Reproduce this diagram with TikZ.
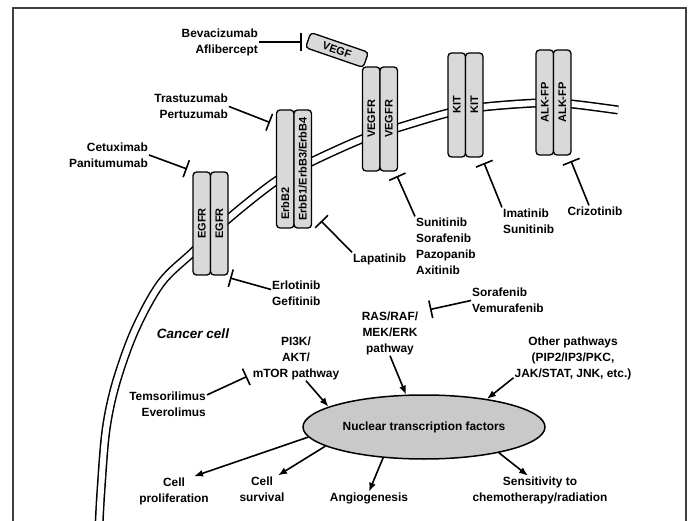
\documentclass[tikz,border=0pt]{standalone}
\usepackage{fontspec}
\setmainfont{Liberation Sans}
\usetikzlibrary{arrows.meta,shapes.geometric}

\tikzset{
	lbl/.style={font=\bfseries\fontsize{11.9}{16}\selectfont, inner sep=1pt, align=center},
	rcpt/.style={draw, fill=gray!30, line width=1.3pt, rounded corners=3.5pt, inner sep=0pt,
		minimum height=17.5pt, font=\bfseries\fontsize{11}{12}\selectfont},
	inhib/.style={line width=1.6pt, -{Bar[width=18pt]}},
	actv/.style={line width=1.6pt, -{Latex[length=9pt,width=7pt]}}
}

\begin{document}
\begin{tikzpicture}[x=1pt, y=-1pt]

	\useasboundingbox (0,0) rectangle (691,521);
	\draw [line width=1.2pt, black!75] (13,521) -- (13,8) -- (686,8) -- (686,521);

	\draw [line width=1.5pt, double distance=6pt] plot [smooth, tension=0.55] coordinates {
		(99,526) (101,490) (106,430) (116,383) (135,330) (161,283) (193,252) (228,219)
		(276,181) (311,162) (362,139) (397,128) (448,113) (483,107) (537,103) (571,104) (618,110)};

	\foreach \nm/\x/\y/\h/\txt in {egfr/201.75/223.5/103/EGFR, vegfr/371.25/119/104/VEGFR,
			kit/456.75/105/104/KIT, alk/544.75/102.5/105/ALK-FP} {
		\node [rcpt, rotate=90, minimum width=\h pt] (\nm A) at (\x,\y) {\txt};
		\node [rcpt, rotate=90, minimum width=\h pt] (\nm B) at (\x+17.5,\y) {\txt};
	}
	\node [rcpt, rotate=90, minimum width=118pt, text width=102pt, align=left] (erbbA) at (285.25,169) {ErbB2};
	\node [rcpt, rotate=90, minimum width=118pt] (erbbB) at (302.75,169) {ErbB1/ErbB3/ErbB4};
	\node [rcpt, rotate=-19, minimum width=61pt, minimum height=16pt] (vegf) at (337,50) {VEGF};

	\node [lbl, anchor=east, align=right] (beva) at (259,42) {Bevacizumab\\Aflibercept};
	\node [lbl, anchor=east, align=right] (trast) at (229,106.5) {Trastuzumab\\Pertuzumab};
	\node [lbl, anchor=east, align=right] (cetux) at (149,155) {Cetuximab\\Panitumumab};
	\node [lbl, anchor=west, align=left] (erlot) at (271,293.5) {Erlotinib\\Gefitinib};
	\node [lbl, anchor=west] (lapat) at (352,259) {Lapatinib};
	\node [lbl, anchor=west, align=left] (sunit) at (415,246) {Sunitinib\\Sorafenib\\Pazopanib\\Axitinib};
	\node [lbl, anchor=west, align=left] (imat) at (502,221) {Imatinib\\Sunitinib};
	\node [lbl] (crizo) at (595,211) {Crizotinib};
	\node [lbl, anchor=west, align=left] (soraf) at (471,300.5) {Sorafenib\\Vemurafenib};
	\node [lbl] (ras) at (390,333) {RAS/RAF/\\MEK/ERK\\pathway};
	\node [lbl] (pi3k) at (296,358) {PI3K/\\AKT/\\mTOR pathway};
	\node [lbl, anchor=east, align=right] (temsi) at (207,404.5) {Temsorilimus\\Everolimus};
	\node [lbl] (other) at (573,358) {Other pathways\\(PIP2/IP3/PKC,\\JAK/STAT, JNK, etc.)};
	\node [lbl, font=\bfseries\itshape\fontsize{13.5}{16}\selectfont] (cancer) at (193,333.5) {Cancer cell};

	\coordinate (vegfT) at (302,42);
	\coordinate (erbbT) at (270,122.5);
	\coordinate (egfrT) at (187,169);
	\coordinate (lapatT) at (321,221);
	\coordinate (erlotT) at (230,278);
	\coordinate (vegfrT) at (397,176);
	\coordinate (kitT) at (484,163);
	\coordinate (alkT) at (571,161);
	\coordinate (rasT) at (430,309.5);
	\coordinate (mtorT) at (247,376.5);

	\draw [inhib] (beva) -- (vegfT);
	\draw [inhib] (trast.east) -- (erbbT);
	\draw [inhib] (cetux.east) -- (egfrT);
	\draw [inhib] (lapat.north west) -- (lapatT);
	\draw [inhib] ([yshift=4pt]erlot.west) -- (erlotT);
	\draw [inhib] (sunit.north west) -- (vegfrT);
	\draw [inhib] (imat.north west) -- (kitT);
	\draw [inhib] ([xshift=-6pt]crizo.north) -- (alkT);
	\draw [inhib] (soraf.west) -- (rasT);
	\draw [inhib] ([yshift=-4pt]temsi.north east) -- (mtorT);

	\node [lbl, ellipse, draw, fill=gray!42, line width=1.5pt, minimum width=242pt, minimum height=64pt,
		inner sep=0pt] (nuc) at (424,427) {Nuclear transcription factors};

	\node [lbl] (prolif) at (174,491) {Cell\\proliferation};
	\node [lbl] (surv) at (262,489) {Cell\\survival};
	\node [lbl] (angio) at (369,498.5) {Angiogenesis};
	\node [lbl] (sens) at (540,490.5) {Sensitivity to\\chemotherapy/radiation};

	\draw [actv] ([xshift=10pt]pi3k.south) -- (nuc.168);
	\draw [actv] (ras.south) -- (nuc.119);
	\draw [actv] ([yshift=3pt]other.south west) -- (nuc.24);
	\draw [actv] (nuc.185) -- ([xshift=20pt]prolif.north);
	\draw [actv] (nuc.191) -- ([xshift=16pt]surv.north);
	\draw [actv] (nuc.217) -- (angio.north);
	\draw [actv] (nuc.341) -- ([xshift=-12pt]sens.north);

\end{tikzpicture}
\end{document}
